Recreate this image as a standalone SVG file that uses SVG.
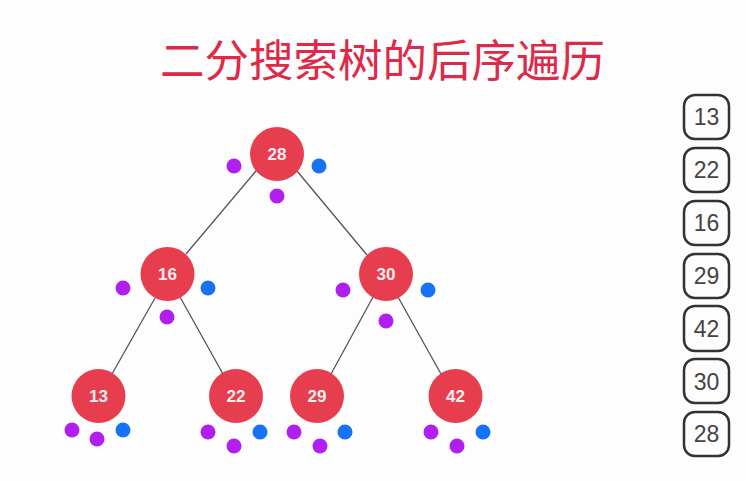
<svg xmlns="http://www.w3.org/2000/svg" width="746" height="481" viewBox="0 0 746 481">
<style>
.n{fill:#e63e4f}
.nt{fill:#fbeef0;font:bold 17px "Liberation Sans","Open Sans",sans-serif;text-anchor:middle}
.p{fill:#b01ff0}
.b{fill:#1673f5}
.e{stroke:#555;stroke-width:1.3;fill:none}
.box{fill:none;stroke:#333;stroke-width:2.5}
.bt{fill:#444;font:23px "Liberation Sans",sans-serif;text-anchor:middle}
.title{fill:#dc2a48;font:400 44.5px "Noto Sans CJK SC",sans-serif;text-anchor:middle}
</style>
<rect width="746" height="481" fill="#fdfdfd"/>
<text class="title" x="382.500" y="77">二分搜索树的后序遍历</text>
<g id="connectors">
<path class="e" d="M256 171L186 254M297 171L367 255M155 298L112 374M180 297L223 374M373 297L331 374M398 297L441 374"/>
</g>
<g id="node-28"><circle class="n" cx="277" cy="154" r="27"/><text class="nt" x="277" y="160">28</text></g>
<g id="node-16"><circle class="n" cx="167.500" cy="274" r="27"/><text class="nt" x="167.500" y="280">16</text></g>
<g id="node-30"><circle class="n" cx="386" cy="274" r="27"/><text class="nt" x="386" y="280">30</text></g>
<g id="node-13"><circle class="n" cx="98.500" cy="396" r="27"/><text class="nt" x="98.500" y="402">13</text></g>
<g id="node-22"><circle class="n" cx="236" cy="396" r="27"/><text class="nt" x="236" y="402">22</text></g>
<g id="node-29"><circle class="n" cx="317" cy="396" r="27"/><text class="nt" x="317" y="402">29</text></g>
<g id="node-42"><circle class="n" cx="455.500" cy="396" r="27"/><text class="nt" x="455.500" y="402">42</text></g>
<g id="dots">
<circle class="p" cx="234" cy="166" r="7.5"/><circle class="p" cx="277" cy="196" r="7.5"/><circle class="b" cx="319" cy="166" r="7.5"/>
<circle class="p" cx="123" cy="288" r="7.5"/><circle class="p" cx="167" cy="317" r="7.5"/><circle class="b" cx="208" cy="288" r="7.5"/>
<circle class="p" cx="343" cy="290" r="7.5"/><circle class="p" cx="386" cy="321" r="7.5"/><circle class="b" cx="428" cy="290" r="7.5"/>
<circle class="p" cx="72" cy="430" r="7.5"/><circle class="p" cx="97" cy="439" r="7.5"/><circle class="b" cx="123" cy="430" r="7.5"/>
<circle class="p" cx="208" cy="432" r="7.5"/><circle class="p" cx="234" cy="446" r="7.5"/><circle class="b" cx="260" cy="432" r="7.5"/>
<circle class="p" cx="294" cy="432" r="7.5"/><circle class="p" cx="320" cy="446" r="7.5"/><circle class="b" cx="345" cy="432" r="7.5"/>
<circle class="p" cx="431" cy="432" r="7.5"/><circle class="p" cx="457" cy="446" r="7.5"/><circle class="b" cx="483" cy="432" r="7.5"/>
</g>
<g id="box-13"><rect class="box" x="684" y="95" width="45" height="44" rx="11"/><text class="bt" x="706.500" y="125">13</text></g>
<g id="box-22"><rect class="box" x="684" y="148" width="45" height="44" rx="11"/><text class="bt" x="706.500" y="178">22</text></g>
<g id="box-16"><rect class="box" x="684" y="201" width="45" height="44" rx="11"/><text class="bt" x="706.500" y="231">16</text></g>
<g id="box-29"><rect class="box" x="684" y="254" width="45" height="44" rx="11"/><text class="bt" x="706.500" y="284">29</text></g>
<g id="box-42"><rect class="box" x="684" y="306" width="45" height="45" rx="11"/><text class="bt" x="706.500" y="337">42</text></g>
<g id="box-30"><rect class="box" x="684" y="359" width="45" height="44" rx="11"/><text class="bt" x="706.500" y="390">30</text></g>
<g id="box-28"><rect class="box" x="684" y="412" width="45" height="44" rx="11"/><text class="bt" x="706.500" y="442">28</text></g>
</svg>
